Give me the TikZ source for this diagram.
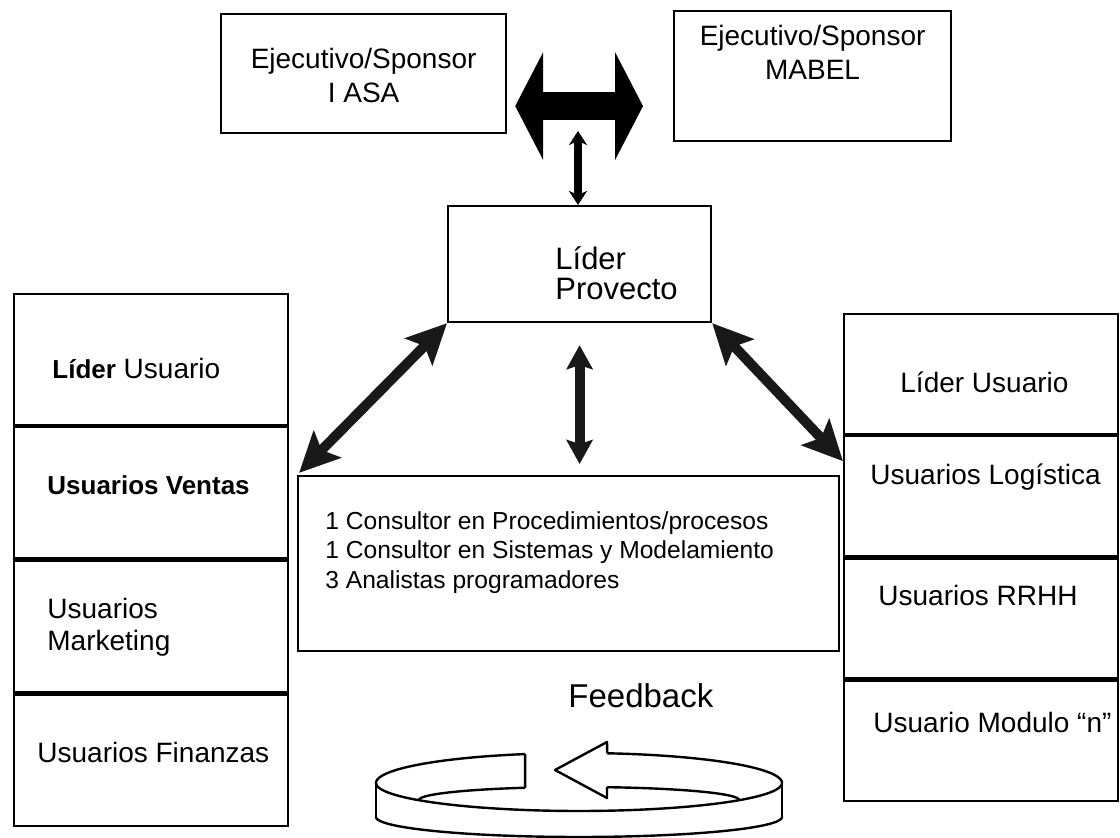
\documentclass[tikz,border=0pt]{standalone}
\usepackage{fontspec}
\setmainfont{Liberation Sans}
\usetikzlibrary{arrows.meta,calc}
\begin{document}
\begin{tikzpicture}[x=0.5pt,y=-0.5pt,
  box/.style={draw=black, line width=1.1pt, fill=white, inner sep=0pt, anchor=north west},
  lbl/.style={inner sep=0pt, anchor=base west, font=\fontsize{14}{16}\selectfont},
  boldlbl/.style={inner sep=0pt, anchor=base west, font=\fontsize{13}{16}\selectfont\bfseries},
  toptext/.style={inner sep=0pt, anchor=north, align=center, font=\fontsize{14}{17}\selectfont},
  bigarrow/.style={draw=black, line width=14pt, {Triangle[length=14pt,width=53.5pt]}-{Triangle[length=14pt,width=53.5pt]}},
  smallarrow/.style={draw=black, line width=4pt, {Stealth[length=7pt,width=9pt,inset=2pt]}-{Stealth[length=7pt,width=9pt,inset=2pt]}},
  midarrow/.style={draw=black!90, line width=5pt, {Stealth[length=12pt,width=13pt,inset=2pt]}-{Stealth[length=12pt,width=13pt,inset=2pt]}},
  diagarrow/.style={draw=black!90, line width=5pt, {Stealth[length=20pt,width=19pt,inset=4pt]}-{Stealth[length=20pt,width=19pt,inset=4pt]}},
  ring/.style={draw=black, line width=1.2pt, line join=round}
]
\useasboundingbox (0,0) rectangle (1120,838);

% sponsors
\node[box, minimum width=142.5pt, minimum height=59.5pt] (iasa) at (220,13) {};
\node[box, minimum width=138.5pt, minimum height=65pt] (mabel) at (673,10) {};
\node[toptext] (iasatxt) at ([yshift=-17.3pt]iasa.north) {Ejecutivo/Sponsor\\I ASA};
\node[toptext] (mabeltxt) at ([yshift=-7.3pt]mabel.north) {Ejecutivo/Sponsor\\MABEL};

% project leader
\node[box, minimum width=131.5pt, minimum height=58pt] (lider) at (447,205) {};
\node[inner sep=0pt, anchor=north west, align=left, font=\fontsize{15.5}{15}\selectfont] (lidertxt) at (555,246) {Líder\\Provecto};

% team
\node[box, minimum width=270.5pt, minimum height=87.5pt] (mid) at (297,475) {};
\node[inner sep=0pt, anchor=north west, align=left, font=\fontsize{12.3}{14.6}\selectfont] (team) at (325,511.5)
  {1 Consultor en Procedimientos/procesos\\1 Consultor en Sistemas y Modelamiento\\3 Analistas programadores};

% left user column
\node[box, minimum width=137pt, minimum height=65.5pt] (l1) at (13,293) {};
\node[box, minimum width=137pt, minimum height=65.5pt] (l2) at (l1.south west) {};
\node[box, minimum width=137pt, minimum height=66pt] (l3) at (l2.south west) {};
\node[box, minimum width=137pt, minimum height=65.5pt] (l4) at (l3.south west) {};
\node[lbl] (l1t) at (52,379) {{\fontsize{13}{16}\selectfont\bfseries Líder} Usuario};
\node[boldlbl] (l2t) at (47,495) {Usuarios Ventas};
\node[lbl, anchor=north west, align=left] (l3t) at (47,598) {Usuarios\\Marketing};
\node[lbl] (l4t) at (37,763) {Usuarios Finanzas};

% right user column
\node[box, minimum width=137pt, minimum height=60pt] (r1) at (843,313) {};
\node[box, minimum width=137pt, minimum height=60pt] (r2) at (r1.south west) {};
\node[box, minimum width=137pt, minimum height=60pt] (r3) at (r2.south west) {};
\node[box, minimum width=137pt, minimum height=60pt] (r4) at (r3.south west) {};
\node[lbl] (r1t) at (900,393) {Líder Usuario};
\node[lbl] (r2t) at (870,485) {Usuarios Logística};
\node[lbl] (r3t) at (878,606) {Usuarios RRHH};
\node[lbl] (r4t) at (873,733) {Usuario Modulo “n”};

% connectors
\draw[bigarrow] ([xshift=4pt,yshift=-16.25pt]iasa.east) -- ([xshift=-15pt,yshift=-15pt]mabel.west);
\coordinate (hub) at (578,131);
\draw[smallarrow] (hub) -- (hub |- lider.north);
\draw[midarrow, shorten <=11pt, shorten >=5.5pt] (lider.south) -- (lider.south |- mid.north);
\draw[diagarrow, shorten >=1.5pt] (lider.south west) -- (mid.north west);
\draw[diagarrow] (lider.south east) -- ([yshift=-13pt]r2.north west);

% feedback loop
\node[inner sep=0pt, anchor=base west, font=\fontsize{16.5}{18}\selectfont] (fb) at (568,708) {Feedback};
\draw[ring] plot[domain=105.4:180, samples=40, smooth] ({579+203*cos(\x)},{783-30*sin(\x)});
\draw[ring] plot[domain=109.7:180, samples=40, smooth] ({579+160*cos(\x)},{800-13*sin(\x)});
\draw[ring] ({579+203*cos(105.4)},{783-30*sin(105.4)}) -- ({579+160*cos(109.7)},{800-13*sin(109.7)});
\draw[ring] plot[domain=180:360, samples=80, smooth] ({579+203*cos(\x)},{783-28*sin(\x)});
\draw[ring] (376,783) -- (376,818);
\draw[ring] (782,783) -- (782,817);
\draw[ring] plot[domain=180:360, samples=80, smooth] ({579+203*cos(\x)},{817-20*sin(\x)});
\draw[ring] plot[domain=0:82, samples=40, smooth] ({579+203*cos(\x)},{783-30*sin(\x)});
\draw[ring] plot[domain=0:79.9, samples=40, smooth] ({579+160*cos(\x)},{800-13*sin(\x)});
\draw[ring] ({579+203*cos(82)},{783-30*sin(82)}) -- (607,742) -- (555,770) -- (607,798) -- ({579+160*cos(79.9)},{800-13*sin(79.9)});
\end{tikzpicture}
\end{document}
